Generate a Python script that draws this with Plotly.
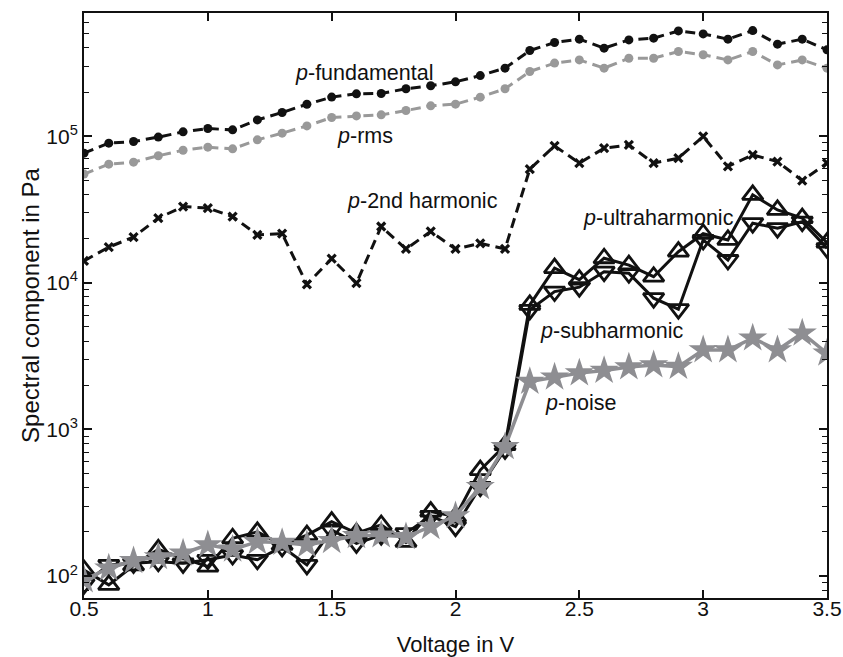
import math
import plotly.graph_objects as go

voltage = [round(0.5 + 0.1 * i, 1) for i in range(31)]

p_fundamental = [76600, 89600, 91900, 98500, 107000, 112700, 110400, 129000, 145000, 165000,
                 184600, 194400, 195400, 210500, 220600, 234700, 259000, 291000, 383700, 435000,
                 458800, 398500, 453600, 466000, 522000, 498000, 458800, 525000, 424000, 458800, 388000]
p_rms = [55100, 64400, 66500, 73500, 80200, 84100, 81900, 94400, 104800, 117500,
         134000, 137500, 139700, 149500, 161000, 165300, 184500, 210400, 276000, 315000,
         331000, 291000, 340000, 340000, 378000, 359000, 331000, 378000, 306000, 331000, 291000]
p_2nd = [14100, 17500, 20500, 27600, 33100, 32300, 28300, 21200, 21600, 9770,
         14600, 9930, 24200, 17000, 22400, 17000, 18600, 17000, 59600, 85900,
         65500, 82800, 87200, 65500, 70800, 99500, 62100, 74500, 67100, 49800, 65500]
p_ultra = [110, 87, 118, 152, 132, 116, 181, 200, 163, 190,
           235, 196, 223, 171, 275, 254, 528, 780, 7070, 12600,
           10500, 14700, 13200, 11000, 16300, 21600, 19600, 39800, 31400, 27600, 18800]
p_sub = [88, 119, 122, 125, 122, 129, 139, 129, 158, 119,
         206, 167, 190, 196, 257, 217, 406, 730, 6530, 8710,
         9330, 11900, 11600, 7850, 6610, 19600, 14300, 25500, 23600, 26100, 17200]
p_noise = [94, 113, 127, 135, 143, 163, 152, 171, 169, 163,
           174, 188, 190, 185, 217, 257, 406, 760, 2120, 2270,
           2420, 2520, 2660, 2750, 2680, 3480, 3480, 4190, 3480, 4530, 3310]

labels = [
    ("<i>p</i>-fundamental", 1.345, 270000),
    ("<i>p</i>-rms", 1.515, 100500),
    ("<i>p</i>-2nd harmonic", 1.555, 36200),
    ("<i>p</i>-ultraharmonic", 2.505, 27700),
    ("<i>p</i>-subharmonic", 2.335, 4700),
    ("<i>p</i>-noise", 2.355, 1520),
]

FONT = "Liberation Sans, Arial, sans-serif"
BLACK = "#111111"
GRAY = "#999999"
NGRAY = "#8e8e92"
DASH = "10px,6px"

fig = go.Figure()
fig.add_trace(go.Scatter(x=voltage, y=p_fundamental, mode="lines+markers",
                         line=dict(color=BLACK, width=3, dash=DASH),
                         marker=dict(symbol="circle", size=9, color=BLACK)))
fig.add_trace(go.Scatter(x=voltage, y=p_rms, mode="lines+markers",
                         line=dict(color=GRAY, width=3, dash=DASH),
                         marker=dict(symbol="circle", size=9, color=GRAY)))
fig.add_trace(go.Scatter(x=voltage, y=p_2nd, mode="lines+markers",
                         line=dict(color=BLACK, width=3, dash=DASH),
                         marker=dict(symbol="x-thin-open", size=8,
                                     line=dict(color=BLACK, width=3.2), color=BLACK)))
fig.add_trace(go.Scatter(x=voltage, y=p_ultra, mode="lines+markers",
                         line=dict(color=BLACK, width=3),
                         marker=dict(symbol="triangle-up-open", size=18, color=BLACK,
                                     line=dict(color=BLACK, width=2.8))))
fig.add_trace(go.Scatter(x=voltage, y=p_sub, mode="lines+markers",
                         line=dict(color=BLACK, width=3),
                         marker=dict(symbol="triangle-down-open", size=18, color=BLACK,
                                     line=dict(color=BLACK, width=2.8))))
fig.add_trace(go.Scatter(x=voltage, y=p_noise, mode="lines+markers",
                         line=dict(color=NGRAY, width=3.5),
                         marker=dict(symbol="star", size=22, color=NGRAY,
                                     line=dict(width=0))))

for text, xx, yy in labels:
    fig.add_annotation(x=xx, y=math.log10(yy), text=text, showarrow=False,
                       xanchor="left", yanchor="middle",
                       font=dict(size=21.5, color=BLACK, family=FONT))

minor_vals = [m * 10 ** e for e in range(1, 6) for m in range(2, 10) if 70 <= m * 10 ** e <= 700000]

fig.update_layout(
    width=843, height=657,
    margin=dict(l=84, r=16, t=13, b=59, autoexpand=False),
    paper_bgcolor="white", plot_bgcolor="white",
    showlegend=False,
    font=dict(family=FONT, size=20, color=BLACK),
    xaxis=dict(range=[0.5, 3.5], tickvals=[0.5, 1, 1.5, 2, 2.5, 3, 3.5],
               ticktext=["0.5", "1", "1.5", "2", "2.5", "3", "3.5"],
               ticks="inside", ticklen=8, tickwidth=1.5, tickcolor=BLACK,
               ticklabelstandoff=-9, automargin=False,
               tickfont=dict(size=21, family=FONT, color=BLACK),
               showline=True, linecolor=BLACK, linewidth=2, mirror="allticks",
               showgrid=False, zeroline=False,
               title=dict(text="Voltage in V", standoff=22, font=dict(size=22, family=FONT, color=BLACK))),
    yaxis=dict(type="log", range=[1.85, 5.84],
               tickvals=[1e2, 1e3, 1e4, 1e5],
               ticktext=["10<sup>2</sup>", "10<sup>3</sup>", "10<sup>4</sup>", "10<sup>5</sup>"],
               ticks="inside", ticklen=8, tickwidth=1.5, tickcolor=BLACK,
               tickfont=dict(size=21, family=FONT, color=BLACK), automargin=False,
               minor=dict(tickvals=minor_vals, ticks="inside", ticklen=5, tickcolor=BLACK,
                          tickwidth=1.2, showgrid=False),
               showline=True, linecolor=BLACK, linewidth=2, mirror="allticks",
               showgrid=False, zeroline=False,
               title=dict(text="Spectral component in Pa", standoff=0,
                          font=dict(size=24, family=FONT, color=BLACK))),
)

fig.write_html("out.html")
